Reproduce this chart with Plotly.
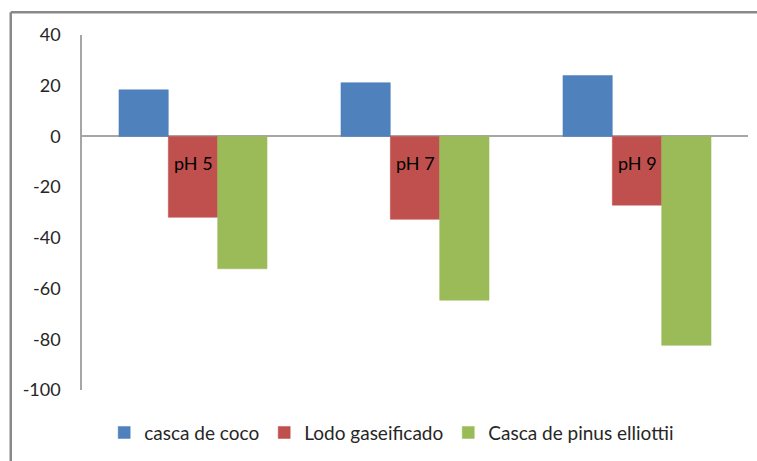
import plotly.graph_objects as go

# Grouped results per pH condition
categories = ["pH 5", "pH 7", "pH 9"]
casca_de_coco = [18.4, 21.2, 24.0]
lodo_gaseificado = [-31.9, -32.7, -27.1]
casca_pinus = [-52.2, -64.6, -82.4]

series_names = ["casca de coco", "Lodo gaseificado", "Casca de pinus elliottii"]
series_values = [casca_de_coco, lodo_gaseificado, casca_pinus]
series_colors = ["#4F81BD", "#C0504D", "#9BBB59"]

y_ticks = [40, 20, 0, -20, -40, -60, -80, -100]
y_tick_text = ["40", "20", "0", "-20", "-40", "-60", "-80", "-100"]

FONT = "Lato"
TEXT_COLOR = "#262626"

fig = go.Figure()
for name, vals, col in zip(series_names, series_values, series_colors):
    fig.add_trace(go.Bar(
        x=categories, y=vals, name=name,
        marker=dict(color=col, line=dict(color=col, width=0.5)),
    ))

# Category labels sit just under the zero line
for cat in categories:
    fig.add_annotation(
        x=cat, y=0, xref="x", yref="y", text=cat, showarrow=False,
        yanchor="top", yshift=-14,
        font=dict(family=FONT, size=18, color="#000000"),
    )

# Outer chart frame (left and top edges)
frame = dict(color="#898989", width=2.5)
fig.add_shape(type="line", xref="paper", yref="paper",
              x0=-0.107, x1=1.02, y0=1.064, y1=1.064, line=frame)
fig.add_shape(type="line", xref="paper", yref="paper",
              x0=-0.107, x1=-0.107, y0=1.064, y1=-0.2, line=frame)

fig.update_layout(
    width=757, height=461,
    margin=dict(l=82, r=9, t=35, b=68),
    paper_bgcolor="white", plot_bgcolor="white",
    barmode="group", bargap=0.333, bargroupgap=0,
    font=dict(family=FONT, size=17, color=TEXT_COLOR),
    showlegend=True,
    legend=dict(
        orientation="h", x=0.465, xanchor="center", y=-0.12, yanchor="middle",
        font=dict(family=FONT, size=19, color=TEXT_COLOR),
        itemwidth=30, tracegroupgap=0,
    ),
    xaxis=dict(showticklabels=False, showgrid=False, zeroline=False,
               showline=False, ticks=""),
    yaxis=dict(range=[-100, 40], tickvals=y_ticks, ticktext=y_tick_text,
               showgrid=False,
               zeroline=True, zerolinecolor="#A6A6A6", zerolinewidth=1.5,
               showline=True, linecolor="#A6A6A6", linewidth=1.5,
               ticks="", ticklabelstandoff=16,
               tickfont=dict(family=FONT, size=18, color=TEXT_COLOR)),
)

fig.write_html("out.html")
